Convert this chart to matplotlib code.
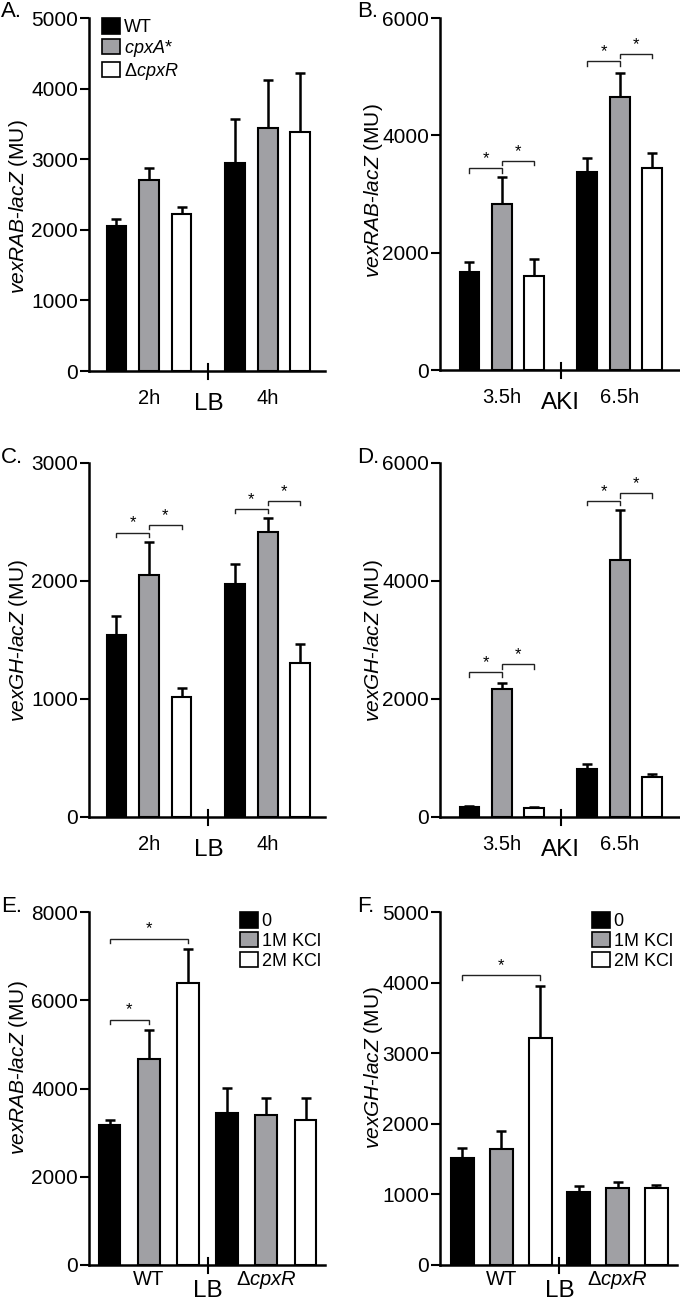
import matplotlib
matplotlib.use('Agg')
import matplotlib.pyplot as plt
from matplotlib.patches import Patch

plt.rcParams['font.family'] = ['Liberation Sans', 'DejaVu Sans']
plt.rcParams['mathtext.fontset'] = 'custom'
plt.rcParams['mathtext.it'] = 'Liberation Sans:italic'
plt.rcParams['mathtext.rm'] = 'Liberation Sans'

# ---------------- data ----------------
strains = ['WT', '$\\it{cpxA}$*', 'Δ$\\it{cpxR}$']
kcl_levels = ['0', '1M KCl', '2M KCl']
times_lb = ['2h', '4h']
times_aki = ['3.5h', '6.5h']
strain_groups = ['WT', 'Δ$\\it{cpxR}$']

# A: vexRAB-lacZ in LB
a_wt = [2050, 2950];   a_wt_err = [100, 620]
a_cpxa = [2705, 3440]; a_cpxa_err = [165, 685]
a_dcpxr = [2230, 3380]; a_dcpxr_err = [100, 845]
# B: vexRAB-lacZ in AKI
b_wt = [1670, 3370];   b_wt_err = [170, 240]
b_cpxa = [2830, 4660]; b_cpxa_err = [460, 410]
b_dcpxr = [1600, 3440]; b_dcpxr_err = [290, 260]
# C: vexGH-lacZ in LB
c_wt = [1540, 1975];   c_wt_err = [160, 170]
c_cpxa = [2050, 2415]; c_cpxa_err = [280, 115]
c_dcpxr = [1020, 1305]; c_dcpxr_err = [70, 160]
# D: vexGH-lacZ in AKI
d_wt = [170, 810];     d_wt_err = [20, 95]
d_cpxa = [2170, 4350]; d_cpxa_err = [95, 860]
d_dcpxr = [150, 680];  d_dcpxr_err = [20, 55]
# E: vexRAB-lacZ with KCl (groups WT, dcpxR)
e_0 = [3170, 3440];  e_0_err = [105, 570]
e_1m = [4665, 3395]; e_1m_err = [655, 400]
e_2m = [6390, 3290]; e_2m_err = [780, 485]
# F: vexGH-lacZ with KCl
f_0 = [1510, 1040];  f_0_err = [150, 85]
f_1m = [1645, 1095]; f_1m_err = [260, 85]
f_2m = [3210, 1085]; f_2m_err = [740, 55]

# significance brackets: (group, series_i, series_j, height)
b_sig = [(0, 0, 1, 3440), (0, 1, 2, 3567), (1, 0, 1, 5260), (1, 1, 2, 5390)]
c_sig = [(0, 0, 1, 2411), (0, 1, 2, 2477), (1, 0, 1, 2612), (1, 1, 2, 2680)]
d_sig = [(0, 0, 1, 2450), (0, 1, 2, 2586), (1, 0, 1, 5359), (1, 1, 2, 5489)]
e_sig = [(0, 0, 2, 7396), (0, 0, 1, 5562)]
f_sig = [(0, 0, 2, 4104)]

# ---------------- styling ----------------
GRAY = '#a0a0a4'
COLORS = ['black', GRAY, 'white']
W, H = 680, 1303
TICK_FS = 15
fig = plt.figure(figsize=(W / 100, H / 100), dpi=100)


def px_axes(left, right, top, bottom):
    return fig.add_axes([left / W, 1 - bottom / H, (right - left) / W, (bottom - top) / H])


def panel(ax, series, errs, group_offset, width, xlim, ymax, ystep,
          ylabel, label_xy, group_labels, break_label, sigs,
          glabel_off, blabel_off):
    n = len(series)
    for s in range(n):
        xs = [g * group_offset + s for g in range(len(series[s]))]
        ax.bar(xs, series[s], width=width, color=COLORS[s], edgecolor='black',
               linewidth=1.5, zorder=3)
        ax.errorbar(xs, series[s], yerr=[[0] * len(xs), errs[s]], fmt='none',
                    ecolor='black', elinewidth=1.8, capsize=3.3, capthick=1.8,
                    zorder=2)
    ax.set_xlim(*xlim)
    ax.set_ylim(0, ymax)
    ax.set_yticks(range(0, ymax + 1, ystep))
    for sp in ['top', 'right']:
        ax.spines[sp].set_visible(False)
    for sp in ['left', 'bottom']:
        ax.spines[sp].set_linewidth(1.8)
    ax.tick_params(axis='y', length=6.5, width=1.5, pad=1.5, labelsize=TICK_FS)
    ax.tick_params(axis='x', length=0, labelbottom=False)
    ax.set_ylabel(ylabel, fontsize=15)
    ax.yaxis.set_label_coords(*label_xy)
    # break marker on x axis
    brk = (n - 1 + group_offset) / 2
    trans = ax.get_xaxis_transform()
    axh = ax.get_window_extent().height
    ax.plot([brk, brk], [-8 / axh, 7 / axh], transform=trans, color='black',
            lw=1.5, clip_on=False, zorder=5)
    # group labels
    for g, lab in enumerate(group_labels):
        gc = g * group_offset + (n - 1) / 2
        ax.annotate(lab, xy=(gc, 0), xycoords=trans, xytext=(0, -glabel_off),
                    textcoords='offset points', ha='center', va='center',
                    fontsize=14.5)
    ax.annotate(break_label, xy=(brk, 0), xycoords=trans, xytext=(0, -blabel_off),
                textcoords='offset points', ha='center', va='center', fontsize=17.5)
    # brackets
    drop = 4.5 / axh * ymax
    for g, i, j, y in sigs:
        x1 = g * group_offset + i
        x2 = g * group_offset + j
        ax.plot([x1, x1, x2, x2], [y - drop, y, y, y - drop], color='#222222',
                lw=1.0, zorder=4, solid_joinstyle='miter')
        ax.annotate('*', xy=((x1 + x2) / 2, y), xytext=(0, 1.5),
                    textcoords='offset points', ha='center', va='bottom',
                    fontsize=12)


def add_legend(ax, labels, xfrac):
    handles = [Patch(facecolor=c, edgecolor='black', linewidth=1.2) for c in COLORS]
    ax.legend(handles, labels, loc='upper left', bbox_to_anchor=(xfrac, 1.0),
              frameon=False, fontsize=13, handlelength=1.0, handleheight=0.95,
              handletextpad=0.2, labelspacing=0.1, borderpad=0,
              borderaxespad=0)


# geometry (pixels)
axA = px_axes(89, 325, 18, 371)
axB = px_axes(440, 680, 18, 370)
axC = px_axes(89, 325, 463, 817)
axD = px_axes(440, 680, 463, 817)
axE = px_axes(89, 325, 912, 1265)
axF = px_axes(440, 677, 912, 1265)

lab_rab = '$\\it{vexRAB}$-$\\it{lacZ}$ (MU)'
lab_gh = '$\\it{vexGH}$-$\\it{lacZ}$ (MU)'

panel(axA, [a_wt, a_cpxa, a_dcpxr], [a_wt_err, a_cpxa_err, a_dcpxr_err],
      3.65, 0.615, (-0.846, 6.415), 5000, 1000, lab_rab, (-0.25, 0.465),
      times_lb, 'LB', [], 19.5, 24)
add_legend(axA, strains, 0.055)

panel(axB, [b_wt, b_cpxa, b_dcpxr], [b_wt_err, b_cpxa_err, b_dcpxr_err],
      3.64, 0.615, (-0.91, 6.5), 6000, 2000, lab_rab, (-0.229, 0.51),
      times_aki, 'AKI', b_sig, 19.5, 23.5)

panel(axC, [c_wt, c_cpxa, c_dcpxr], [c_wt_err, c_cpxa_err, c_dcpxr_err],
      3.65, 0.615, (-0.846, 6.415), 3000, 1000, lab_gh, (-0.25, 0.5),
      times_lb, 'LB', c_sig, 19.5, 24)

panel(axD, [d_wt, d_cpxa, d_dcpxr], [d_wt_err, d_cpxa_err, d_dcpxr_err],
      3.64, 0.615, (-0.91, 6.5), 6000, 2000, lab_gh, (-0.229, 0.5),
      times_aki, 'AKI', d_sig, 19.5, 23.5)

panel(axE, [e_0, e_1m, e_2m], [e_0_err, e_1m_err, e_2m_err],
      3, 0.56, (-0.523, 5.497), 8000, 2000, lab_rab, (-0.25, 0.56),
      strain_groups, 'LB', e_sig, 10.5, 19)
add_legend(axE, kcl_levels, 0.64)

panel(axF, [f_0, f_1m, f_2m], [f_0_err, f_1m_err, f_2m_err],
      3, 0.59, (-0.58, 5.53), 5000, 1000, lab_gh, (-0.232, 0.56),
      strain_groups, 'LB', f_sig, 10.5, 19)
add_legend(axF, kcl_levels, 0.641)

# panel letters
for letter, xp, yp in [('A.', 1, 17), ('B.', 357, 17), ('C.', 1, 463),
                       ('D.', 357, 463), ('E.', 1, 912), ('F.', 357, 912)]:
    fig.text(xp / W, 1 - yp / H, letter, fontsize=16, ha='left', va='baseline')

fig.savefig('out.png', dpi=100)
